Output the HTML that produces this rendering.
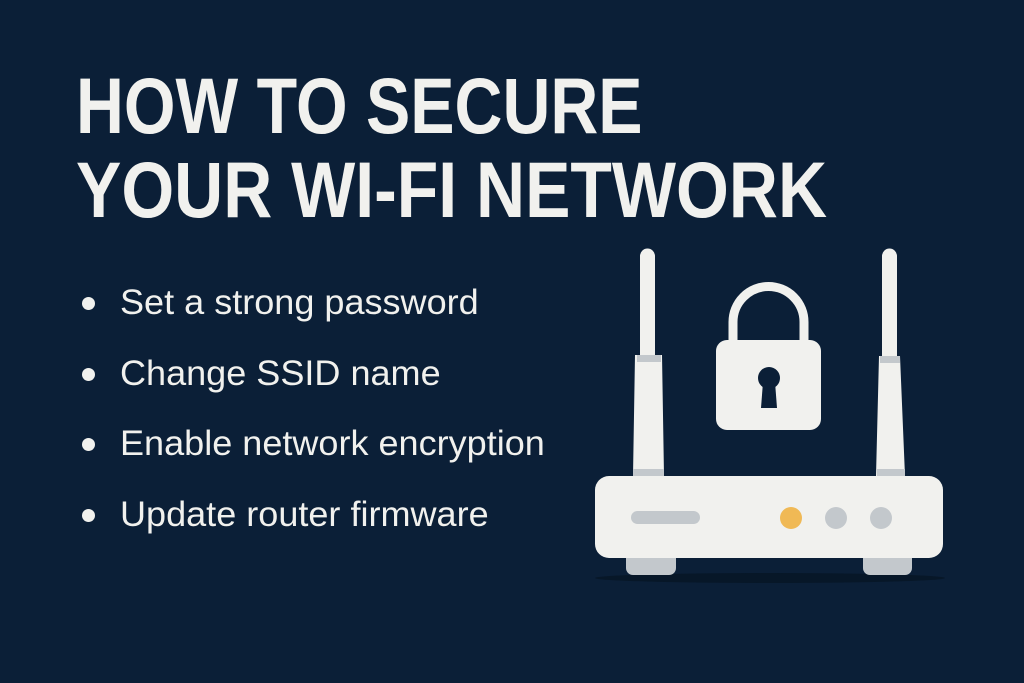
<!DOCTYPE html>
<html><head><style>
html,body{margin:0;padding:0;}
body{width:1024px;height:683px;background:#0b1f37;position:relative;overflow:hidden;font-family:"Liberation Sans",sans-serif;}
.t{position:absolute;left:76px;color:#f1f1ee;font-weight:bold;font-size:79px;line-height:1;white-space:nowrap;transform-origin:0 0;}
.b{position:absolute;left:120px;color:#f1f1ee;font-size:35px;line-height:1;white-space:nowrap;transform-origin:0 50%;transform:scaleX(1.03);}
.d{position:absolute;left:82px;width:13px;height:13px;border-radius:50%;background:#f1f1ee;}
</style></head><body>
<div class="t" style="top:66px;transform:scaleX(0.84)">HOW TO SECURE</div>
<div class="t" style="top:150px;transform:scaleX(0.86)">YOUR WI-FI NETWORK</div>
<div class="d" style="top:297px"></div><div class="b" style="top:285px">Set a strong password</div>
<div class="d" style="top:368px"></div><div class="b" style="top:356px">Change SSID name</div>
<div class="d" style="top:438px"></div><div class="b" style="top:426px">Enable network encryption</div>
<div class="d" style="top:509px"></div><div class="b" style="top:497px">Update router firmware</div>
<svg width="1024" height="683" style="position:absolute;left:0;top:0">
<ellipse cx="770" cy="578" rx="175" ry="5" fill="#071728"/>
<path d="M640,256 a7.5,7.5 0 0 1 15,0 L655,355 L662,355 L664,476 L633,476 L635,355 L640,355 Z" fill="#f1f1ee"/>
<rect x="637" y="355" width="24" height="7" fill="#c3c8cc"/>
<rect x="633" y="469" width="31" height="7" fill="#c3c8cc"/>
<path d="M882,256 a7.5,7.5 0 0 1 15,0 L897,356 L900,356 L905,476 L876,476 L879,356 L882,356 Z" fill="#f1f1ee"/>
<rect x="880" y="356" width="20" height="7" fill="#c3c8cc"/>
<rect x="877" y="469" width="28" height="7" fill="#c3c8cc"/>
<rect x="626" y="550" width="50" height="25" rx="7" fill="#c3c8cc"/>
<rect x="863" y="550" width="49" height="25" rx="7" fill="#c3c8cc"/>
<rect x="595" y="476" width="348" height="82" rx="14" fill="#f1f1ee"/>
<rect x="631" y="511" width="69" height="13" rx="6.5" fill="#c3c8cc"/>
<circle cx="791" cy="518" r="11" fill="#f0b955"/>
<circle cx="836" cy="518" r="11" fill="#c3c8cc"/>
<circle cx="881" cy="518" r="11" fill="#c3c8cc"/>
<path d="M733,345 L733,322 a35.5,35.5 0 0 1 71,0 L804,345" fill="none" stroke="#f1f1ee" stroke-width="9"/>
<rect x="716" y="340" width="105" height="90" rx="11" fill="#f1f1ee"/>
<circle cx="769" cy="378" r="11" fill="#0b1f37"/>
<path d="M763,382 L775,382 L777,408 L761,408 Z" fill="#0b1f37"/>
</svg>
</body></html>
